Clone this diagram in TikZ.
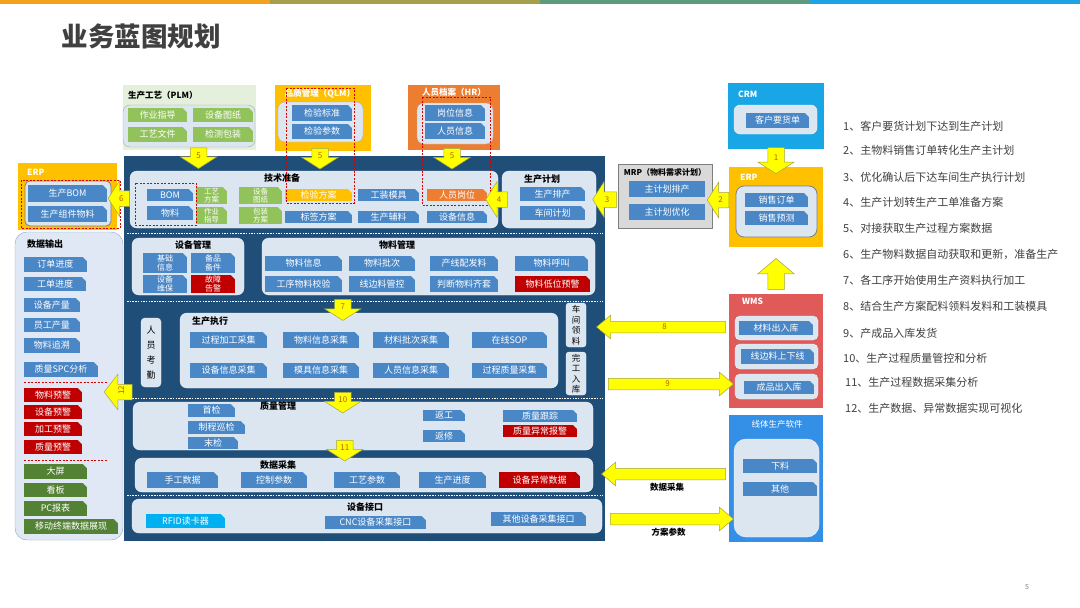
\documentclass[tikz,border=0pt]{standalone}
\usepackage{fontspec}
\setmainfont{Noto Sans CJK SC}
\usetikzlibrary{positioning,calc,fit,shapes.arrows}

\definecolor{navy}{HTML}{1F4E79}
\definecolor{panefill}{HTML}{DCE6F1}
\definecolor{tabblue}{HTML}{4A87C7}
\definecolor{tabred}{HTML}{C00000}
\definecolor{tabgreen}{HTML}{92C35B}
\definecolor{outgreen}{HTML}{548235}
\definecolor{gold}{HTML}{FFC000}
\definecolor{hrorange}{HTML}{ED7D31}
\definecolor{rfidcyan}{HTML}{00B0F0}
\definecolor{crmblue}{HTML}{19A6E6}
\definecolor{wmsred}{HTML}{E05A5A}
\definecolor{lineblue}{HTML}{3490E6}
\definecolor{mrpgray}{HTML}{D9D9D9}
\definecolor{edgegray}{HTML}{7F7F7F}
\definecolor{arrowyellow}{HTML}{FFFF00}
\definecolor{arrowedge}{HTML}{A5A541}
\definecolor{numcol}{HTML}{C55A11}
\definecolor{textgray}{HTML}{404040}
\definecolor{plmbg}{HTML}{E4EFDC}
\definecolor{plmedge}{HTML}{9DB58A}
\definecolor{outbg}{HTML}{DFE8F4}
\definecolor{outedge}{HTML}{8EA6C4}
\definecolor{stripA}{HTML}{F3A21B}
\definecolor{stripB}{HTML}{A59E4A}
\definecolor{stripC}{HTML}{5D9B7C}
\definecolor{stripD}{HTML}{1EA4E4}

\tikzset{
  sysbox/.style={inner sep=0pt, outer sep=0pt},
  systitle/.style={font=\fontsize{8.5}{9}\selectfont\bfseries, text=white, inner sep=0pt},
  inpane/.style={fill=panefill, draw=white!60!panefill, rounded corners=7pt, inner sep=0pt},
  pantitle/.style={font=\fontsize{9}{9}\selectfont\bfseries, text=black, inner sep=0pt},
  tab/.style={rectangle, fill=tabblue, inner sep=0pt,
    path picture={\fill[panefill]
      ([xshift=-4pt]path picture bounding box.north east) --
      (path picture bounding box.north east) --
      ([yshift=-4pt]path picture bounding box.north east) -- cycle;}},
  redtab/.style={tab, fill=tabred},
  greentab/.style={tab, fill=tabgreen},
  tabtext/.style={text=white, font=\fontsize{9}{9.5}\selectfont, inner sep=0pt, align=center},
  txt/.style={label={[tabtext]center:#1}},
  txtii/.style={label={[tabtext, font=\fontsize{7.5}{7.5}\selectfont]center:#1}},
  txtiii/.style={label={[tabtext, font=\fontsize{8}{8.5}\selectfont]center:#1}},
  reddash/.style={draw=red!85!black, dash pattern=on 2pt off 1.5pt, line width=.6pt},
  sepline/.style={draw=white, dash pattern=on 1.5pt off 1.2pt, line width=.7pt},
  blkarrow/.style={single arrow, fill=arrowyellow, draw=arrowedge, line width=.5pt,
    single arrow head extend=10pt, single arrow tip angle=115, inner sep=2pt,
    text width=12pt, align=center, text height=8pt, text depth=3pt,
    font=\fontsize{8}{8}\selectfont, text=numcol},
  longarrow/.style={single arrow head extend=6pt, single arrow tip angle=80,
    text width=6pt, text height=6pt, text depth=1pt},
  armlabel/.style={font=\fontsize{8.5}{9}\selectfont\bfseries, text=black},
  listitem/.style={anchor=west, font=\fontsize{11}{11}\selectfont, text=textgray, inner sep=0pt}
}

% block arrow between two points: [style]{name}{from}{to}{text}
\newcommand\blkarr[5][]{%
  \path let \p1=(#3), \p2=(#4),
    \n1={veclen(\x2-\x1,\y2-\y1)},
    \n2={mod(atan2(\y2-\y1,\x2-\x1)+360,360)} in
    node[blkarrow,#1,minimum height=\n1,shape border rotate=\n2] (#2) at ($(\p1)!.5!(\p2)$) {#5};}

\begin{document}
\begin{tikzpicture}[x=1pt,y=-1pt]
  \useasboundingbox (0,0) rectangle (1080,608);
  \fill[white] (0,0) rectangle (1080,608);
  \fill[stripA] (0,0) rectangle (270,4);
  \fill[stripB] (270,0) rectangle (540,4);
  \fill[stripC] (540,0) rectangle (810,4);
  \fill[stripD] (810,0) rectangle (1080,4);
  \node[anchor=west, font=\fontsize{26.5}{27}\selectfont\bfseries, text=textgray] (title) at (58,36) {业务蓝图规划};

  % PLM / QLM / HR
  \node[sysbox, fill=plmbg, fit={(123,85) (256,150)}] (plm) {};
  \node[systitle, text=black, anchor=west] (plmt) at (128,95) {生产工艺（PLM）};
  \node[inpane, draw=plmedge, fit={(123,105) (255,147)}] (plmi) {};
  \node[greentab, txt=作业指导, fit={(128,108) (187,122)}] (zyzd) {};
  \node[greentab, txt=设备图纸, fit={(193,108) (253,122)}] (sbtz) {};
  \node[greentab, txt=工艺文件, fit={(128,127) (187,142)}] (gywj) {};
  \node[greentab, txt=检测包装, fit={(193,127) (253,142)}] (jcbz) {};

  \node[sysbox, fill=gold, fit={(275,85) (371,151)}] (qlm) {};
  \node[systitle] (qlmt) at (320,94) {品质管理（QLM）};
  \node[inpane, draw=edgegray!60, fit={(278,102) (363,142)}] (qlmi) {};
  \node[tab, txt=检验标准, fit={(292,105) (352,121)}] (jybz) {};
  \node[tab, txt=检验参数, fit={(292,124) (352,139)}] (jycs) {};

  \node[sysbox, fill=hrorange, fit={(408,85) (500,150)}] (hr) {};
  \node[systitle] (hrt) at (454,92) {人员档案（HR）};
  \node[inpane, draw=edgegray!60, fit={(417,103) (493,144)}] (hri) {};
  \node[tab, txt=岗位信息, fit={(425,105) (485,121)}] (gwxx) {};
  \node[tab, txt=人员信息, fit={(425,123) (485,139)}] (ryxx) {};

  % main block
  \node[sysbox, fill=navy, fit={(124,156) (605,541)}] (main) {};

  \node[inpane, fit={(130,171) (498,228)}] (tech) {};
  \node[pantitle] (techt) at (282,178) {技术准备};
  \node[tab, txt=BOM, fit={(147,189) (193,201)}] (bom) {};
  \node[tab, txt=物料, fit={(147,206) (193,220)}] (wl) {};
  \node[greentab, txtii=工艺\\方案, fit={(196,187) (227,204)}] (gyfa) {};
  \node[greentab, txtii=设备\\图纸, fit={(239,187) (282,204)}] (sbtz2) {};
  \node[greentab, txtii=作业\\指导, fit={(196,207) (227,224)}] (zyzd2) {};
  \node[greentab, txtii=包装\\方案, fit={(239,207) (282,224)}] (bzfa) {};
  \node[tab, fill=gold, txt=检验方案, fit={(285,189) (352,201)}] (jyfa) {};
  \node[tab, txt=工装模具, fit={(358,189) (419,201)}] (gzmj) {};
  \node[tab, fill=hrorange, txt=人员岗位, fit={(427,189) (487,201)}] (rygw) {};
  \node[tab, txt=标签方案, fit={(285,211) (352,223)}] (bqfa) {};
  \node[tab, txt=生产辅料, fit={(358,211) (419,223)}] (scfl) {};
  \node[tab, txt=设备信息, fit={(427,211) (487,223)}] (sbxx) {};

  \node[inpane, fit={(502,171) (596,228)}] (plan) {};
  \node[pantitle] (plant) at (542,179) {生产计划};
  \node[tab, txt=生产排产, fit={(520,187) (585,201)}] (scpc) {};
  \node[tab, txt=车间计划, fit={(520,206) (585,220)}] (cjjh) {};

  \draw[sepline] (127,233) -- (603,233);
  \node[inpane, fit={(132,238) (244,295)}] (equip) {};
  \node[pantitle] (equipt) at (193,245) {设备管理};
  \node[tab, txtiii=基础\\信息, fit={(143,253) (187,273)}] (jcxx) {};
  \node[tab, txtiii=备品\\备件, fit={(191,253) (235,273)}] (bpbj) {};
  \node[tab, txtiii=设备\\维保, fit={(143,275) (187,293)}] (sbwb) {};
  \node[redtab, txtiii=故障\\告警, fit={(191,275) (235,293)}] (gzgj) {};

  \node[inpane, fit={(262,238) (595,295)}] (mat) {};
  \node[pantitle] (matt) at (397,245) {物料管理};
  \node[tab, txt=物料信息, fit={(265,256) (342,271)}] (wlxx) {};
  \node[tab, txt=物料批次, fit={(349,256) (415,271)}] (wlpc) {};
  \node[tab, txt=产线配发料, fit={(430,256) (498,271)}] (cxpfl) {};
  \node[tab, txt=物料呼叫, fit={(515,256) (588,271)}] (wlhj) {};
  \node[tab, txt=工序物料校验, fit={(265,276) (342,292)}] (gxwljy) {};
  \node[tab, txt=线边料管控, fit={(349,276) (415,292)}] (xblgk) {};
  \node[tab, txt=判断物料齐套, fit={(430,276) (498,292)}] (pdwlqt) {};
  \node[redtab, txt=物料低位预警, fit={(515,276) (590,292)}] (wldwyj) {};

  \draw[sepline] (127,301) -- (603,301);
  \node[inpane, rounded corners=4pt, label={[align=center, font=\fontsize{9}{15}\selectfont]center:人\\员\\考\\勤}, fit={(141,318) (161,387)}] (staff) {};
  \node[inpane, fit={(180,313) (558,388)}] (exec) {};
  \node[pantitle] (exect) at (210,321) {生产执行};
  \node[tab, txt=过程加工采集, fit={(190,332) (267,348)}] (gcjg) {};
  \node[tab, txt=物料信息采集, fit={(283,332) (359,348)}] (wlxxcj) {};
  \node[tab, txt=材料批次采集, fit={(373,332) (449,348)}] (clpc) {};
  \node[tab, txt=在线SOP, fit={(472,332) (547,348)}] (sop) {};
  \node[tab, txt=设备信息采集, fit={(190,363) (267,378)}] (sbxxcj) {};
  \node[tab, txt=模具信息采集, fit={(283,363) (359,378)}] (mjxx) {};
  \node[tab, txt=人员信息采集, fit={(373,363) (449,378)}] (ryxxcj) {};
  \node[tab, txt=过程质量采集, fit={(472,363) (547,378)}] (gczl) {};
  \node[inpane, rounded corners=3pt, label={[align=center, font=\fontsize{8.5}{10.5}\selectfont]center:车\\间\\领\\料}, fit={(566,303) (586,347)}] (pick) {};
  \node[inpane, rounded corners=3pt, label={[align=center, font=\fontsize{8.5}{10.5}\selectfont]center:完\\工\\入\\库}, fit={(566,352) (586,395)}] (done) {};

  \draw[sepline] (127,398) -- (603,398);
  \node[inpane, fit={(133,402) (593,450)}] (qual) {};
  \node[pantitle] (qualt) at (278,406) {质量管理};
  \node[tab, txt=首检, fit={(188,404) (235,417)}] (sj) {};
  \node[tab, txt=制程巡检, fit={(188,421) (245,434)}] (zcxj) {};
  \node[tab, txt=末检, fit={(188,437) (238,449)}] (mj) {};
  \node[tab, txt=返工, fit={(423,410) (465,421)}] (fg) {};
  \node[tab, txt=返修, fit={(423,430) (465,442)}] (fx) {};
  \node[tab, txt=质量跟踪, fit={(503,410) (577,422)}] (zlgz) {};
  \node[redtab, txt=质量异常报警, fit={(503,425) (577,437)}] (zlyc) {};

  \node[inpane, fit={(135,458) (593,492)}] (coll) {};
  \node[pantitle] (collt) at (278,465) {数据采集};
  \node[tab, txt=手工数据, fit={(147,472) (218,488)}] (sgsj) {};
  \node[tab, txt=控制参数, fit={(241,472) (307,488)}] (kzcs) {};
  \node[tab, txt=工艺参数, fit={(334,472) (400,488)}] (gycs) {};
  \node[tab, txt=生产进度, fit={(419,472) (486,488)}] (scjd) {};
  \node[redtab, txt=设备异常数据, fit={(499,472) (580,488)}] (sbyc) {};

  \draw[sepline] (127,495) -- (603,495);
  \node[inpane, fit={(132,499) (602,533)}] (dev) {};
  \node[pantitle] (devt) at (365,507) {设备接口};
  \node[tab, fill=rfidcyan, txt=RFID读卡器, fit={(146,514) (225,528)}] (rfid) {};
  \node[tab, txt=CNC设备采集接口, fit={(325,516) (426,529)}] (cnc) {};
  \node[tab, txt=其他设备采集接口, fit={(491,512) (586,526)}] (qtsb) {};

  % left ERP and data output
  \node[sysbox, fill=gold, fit={(18,163) (117,230)}] (erpl) {};
  \node[systitle, anchor=west] (erplt) at (27,172) {ERP};
  \node[inpane, draw=edgegray, line width=.8pt, rounded corners=5pt, fit={(25,181) (111,226)}] (erpli) {};
  \node[tab, txt=生产BOM, fit={(28,185) (107,202)}] (scbom) {};
  \node[tab, txt=生产组件物料, fit={(28,206) (107,222)}] (zjwl) {};

  \node[fill=outbg, draw=outedge, rounded corners=12pt, inner sep=0pt, fit={(15,232) (123,540)}] (out) {};
  \node[pantitle, anchor=west] (outt) at (27,244) {数据输出};
  \node[tab, txt=订单进度, fit={(24,257) (87,272)}] (ddjd) {};
  \node[tab, txt=工单进度, fit={(24,277) (86,291)}] (gdjd) {};
  \node[tab, txt=设备产量, fit={(24,298) (80,312)}] (sbcl) {};
  \node[tab, txt=员工产量, fit={(24,318) (80,332)}] (ygcl) {};
  \node[tab, txt=物料追溯, fit={(24,338) (80,353)}] (wlzs) {};
  \node[tab, txt=质量SPC分析, fit={(24,362) (98,377)}] (spc) {};
  \draw[reddash] (24,382) -- (108,382);
  \node[redtab, txt=物料预警, fit={(24,388) (82,402)}] (wlyj) {};
  \node[redtab, txt=设备预警, fit={(24,405) (82,419)}] (sbyj) {};
  \node[redtab, txt=加工预警, fit={(24,422) (82,436)}] (jgyj) {};
  \node[redtab, txt=质量预警, fit={(24,440) (82,454)}] (zlyj) {};
  \draw[reddash] (24,460) -- (108,460);
  \node[tab, fill=outgreen, txt=大屏, fit={(24,464) (87,479)}] (dp) {};
  \node[tab, fill=outgreen, txt=看板, fit={(24,483) (87,497)}] (kb) {};
  \node[tab, fill=outgreen, txt=PC报表, fit={(24,501) (87,516)}] (pcbb) {};
  \node[tab, fill=outgreen, txt=移动终端数据展现, fit={(24,519) (118,534)}] (ydzd) {};

  % right side systems
  \node[sysbox, fill=crmblue, fit={(728,83) (824,149)}] (crm) {};
  \node[systitle, anchor=west] (crmt) at (738,94) {CRM};
  \node[inpane, rounded corners=6pt, fit={(734,105) (817,134)}] (crmi) {};
  \node[tab, txt=客户要货单, fit={(746,113) (809,128)}] (khyhd) {};

  \node[sysbox, fill=gold, fit={(729,167) (823,247)}] (erpr) {};
  \node[systitle, anchor=west] (erprt) at (740,177) {ERP};
  \node[inpane, draw=edgegray, line width=.8pt, rounded corners=8pt, fit={(736,186) (817,237)}] (erpri) {};
  \node[tab, txt=销售订单, fit={(745,193) (808,207)}] (xsdd) {};
  \node[tab, txt=销售预测, fit={(745,211) (808,225)}] (xsyc) {};

  \node[sysbox, fill=mrpgray, draw=edgegray, line width=.8pt, fit={(618,164) (712,228)}] (mrp) {};
  \node[systitle, text=black, font=\fontsize{8}{8}\selectfont\bfseries] (mrpt) at (665,172) {MRP（物料需求计划）};
  \node[tab, path picture={}, txt=主计划排产, fit={(629,181) (705,197)}] (zjhpc) {};
  \node[tab, path picture={}, txt=主计划优化, fit={(629,204) (705,220)}] (zjhyh) {};

  \node[sysbox, fill=wmsred, fit={(729,294) (823,408)}] (wms) {};
  \node[systitle, anchor=west] (wmst) at (742,301) {WMS};
  \node[inpane, rounded corners=5pt, fit={(735,316) (818,340)}] (wmsa) {};
  \node[inpane, rounded corners=5pt, fit={(735,344) (818,369)}] (wmsb) {};
  \node[inpane, rounded corners=5pt, fit={(735,374) (818,399)}] (wmsc) {};
  \node[tab, txt=材料出入库, fit={(739,321) (813,335)}] (clcrk) {};
  \node[tab, txt=线边料上下线, fit={(741,349) (814,364)}] (xblsx) {};
  \node[tab, txt=成品出入库, fit={(744,381) (814,394)}] (cpcrk) {};

  \node[sysbox, fill=lineblue, fit={(729,415) (823,542)}] (line) {};
  \node[systitle, font=\fontsize{8.5}{9}\selectfont] (linet) at (777,424) {线体生产软件};
  \node[inpane, rounded corners=12pt, fit={(734,439) (819,537)}] (linei) {};
  \node[tab, txt=下料, fit={(743,459) (817,473)}] (xl) {};
  \node[tab, txt=其他, fit={(743,482) (817,496)}] (qt) {};

  % red dashed frames
  \draw[reddash] (286,88) rectangle (354,203);
  \draw[reddash] (422,97) rectangle (490,205);
  \draw[reddash] (135,183) rectangle (196,225);
  \draw[reddash] (21,180) rectangle (120,228);

  % block arrows
  \blkarr{a1}{$(crm.south)+(0,-4)$}{$(erpr.north)+(0,4)$}{1}
  \blkarr{a2}{$(erpr.west |- mrp.east)+(2,4)$}{$(mrp.east)+(-2,4)$}{2}
  \blkarr{a3}{$(mrp.west |- plan.east)+(1,0)$}{$(plan.east)+(-1,0)$}{3}
  \blkarr{a4}{$(plan.west)+(8,0)$}{$(tech.east)+(-10,0)$}{4}
  \blkarr{a5p}{$(plm.south)+(9,-4)$}{$(plm.south)+(9,15)$}{5}
  \blkarr{a5q}{$(qlm.south)+(-3,-4)$}{$(qlm.south)+(-3,14)$}{5}
  \blkarr{a5h}{$(hr.south)+(-2,-3)$}{$(hr.south)+(-2,15)$}{5}
  \blkarr{a6}{$(tech.west)+(1,-1)$}{$(erpl.east |- tech.west)+(-5,-1)$}{6}
  \blkarr{a7}{$(exec.north west)+(163,-16)$}{$(exec.north west)+(163,5)$}{7}
  \blkarr[longarrow]{a8}{$(wms.west)+(0,-24)$}{$(main.east |- wms.west)+(-5,-24)$}{8}
  \blkarr[longarrow]{a9}{$(main.east |- wms.west)+(0,33)$}{$(wms.west)+(1,33)$}{9}
  \blkarr{a10}{$(exec.south west)+(163,2)$}{$(qual.north west)+(210,8)$}{10}
  \blkarr{a11}{$(qual.south west)+(212,-12)$}{$(coll.north west)+(210,0)$}{11}
  \blkarr[single arrow tip angle=105]{a12}{$(main.west)+(11,43.5)$}{$(out.east |- main.west)+(-16,43.5)$}{\rotatebox{90}{12}}
  \blkarr[single arrow tip angle=100]{aup}{$(wms.north)+(0,-1)$}{$(wms.north)+(0,-32)$}{}
  \blkarr[longarrow, label={[armlabel]below:数据采集}]{adata}{$(line.west)+(0,-4.5)$}{$(main.east |- line.west)+(0,-4.5)$}{}
  \blkarr[longarrow, label={[armlabel]below:方案参数}]{apara}{$(main.east |- line.west)+(2,40.5)$}{$(line.west)+(1,40.5)$}{}

  % numbered notes
  \node[listitem] (n1) at (843,126) {1、客户要货计划下达到生产计划};
  \node[listitem] (n2) at (843,150) {2、主物料销售订单转化生产主计划};
  \node[listitem] (n3) at (843,177) {3、优化确认后下达车间生产执行计划};
  \node[listitem] (n4) at (843,202) {4、生产计划转生产工单准备方案};
  \node[listitem] (n5) at (843,228) {5、对接获取生产过程方案数据};
  \node[listitem] (n6) at (843,254) {6、生产物料数据自动获取和更新，准备生产};
  \node[listitem] (n7) at (843,280) {7、各工序开始使用生产资料执行加工};
  \node[listitem] (n8) at (843,306) {8、结合生产方案配料领料发料和工装模具};
  \node[listitem] (n9) at (843,333) {9、产成品入库发货};
  \node[listitem] (n10) at (843,358) {10、生产过程质量管控和分析};
  \node[listitem] (n11) at (845,382) {11、生产过程数据采集分析};
  \node[listitem] (n12) at (845,408) {12、生产数据、异常数据实现可视化};

  \node[font=\fontsize{7}{7}\selectfont, text=gray] (page) at (1027,587) {5};
\end{tikzpicture}
\end{document}
